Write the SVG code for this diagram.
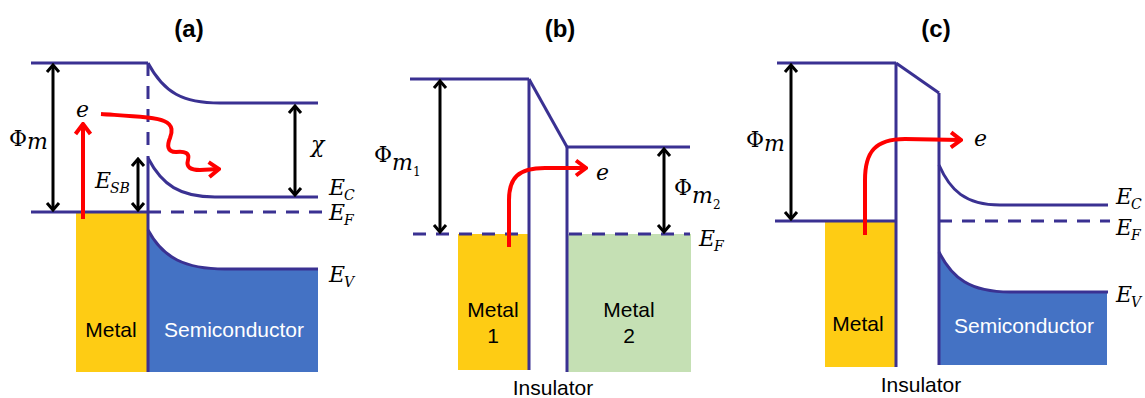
<svg xmlns="http://www.w3.org/2000/svg" width="1145" height="398" viewBox="0 0 1145 398">
<defs>
<style>
.band{fill:none;stroke:#3a3192;stroke-width:3}
.dash{fill:none;stroke:#3a3192;stroke-width:3;stroke-dasharray:13 10}
.blk{fill:none;stroke:#000;stroke-width:3;marker-start:url(#ah);marker-end:url(#ah)}
.red{fill:none;stroke:#ff0000;stroke-width:4;marker-end:url(#rh)}
.title{font-family:"Liberation Sans",Arial,sans-serif;font-weight:bold;font-size:24px;text-anchor:middle}
.lbl{font-family:"Liberation Sans",Arial,sans-serif;font-size:21px;text-anchor:middle}
.m{font-family:"DejaVu Serif","Liberation Serif",serif;font-size:22px}
.mi{font-family:"DejaVu Serif","Liberation Serif",serif;font-size:22px;font-style:italic}
.sub{font-family:"DejaVu Serif","Liberation Serif",serif;font-size:14px;font-style:italic}
.sub2{font-family:"DejaVu Serif","Liberation Serif",serif;font-size:12px}
</style>
<marker id="ah" markerUnits="userSpaceOnUse" viewBox="-10 -8 12 16" refX="0" refY="0" markerWidth="12" markerHeight="16" orient="auto-start-reverse">
<path d="M-7,-6 L0,0 L-7,6" fill="none" stroke="#000" stroke-width="3"/>
</marker>
<marker id="rh" markerUnits="userSpaceOnUse" viewBox="-13 -10 15 20" refX="0" refY="0" markerWidth="15" markerHeight="20" orient="auto">
<path d="M-10,-7.5 L0,0 L-10,7.5" fill="none" stroke="#ff0000" stroke-width="4"/>
</marker>
</defs>
<rect width="1145" height="398" fill="#fff"/>

<g id="titles">
<text class="title" x="189" y="37">(a)</text>
<text class="title" x="560" y="37">(b)</text>
<text class="title" x="936" y="37">(c)</text>
</g>

<!-- Panel (a) -->
<g id="a-metal">
<rect x="76" y="212" width="72" height="160" fill="#fecc14"/>
<text class="lbl" x="111" y="337">Metal</text>
</g>
<g id="a-semiconductor">
<path d="M148,230 C163,258 185,269 225,269 L318,269 L318,372 L148,372 Z" fill="#4472c4"/>
<path class="band" d="M148,230 C163,258 185,269 225,269 L318,269"/>
<text class="lbl" x="234" y="337" fill="#fff">Semiconductor</text>
</g>
<g id="a-bands">
<line class="band" x1="31" y1="63" x2="148" y2="63"/>
<line class="dash" x1="148" y1="63" x2="148" y2="155"/>
<line class="band" x1="148" y1="156" x2="148" y2="372"/>
<path class="band" d="M148,63 C164,93 183,103 220,103 L318,103"/>
<path class="band" d="M148,158 C162,185 180,197 215,197 L318,197"/>
<line class="band" x1="31" y1="212" x2="148" y2="212"/>
<line class="dash" x1="148" y1="212" x2="326" y2="212"/>
</g>
<g id="a-labels">
<text class="m" x="9" y="146">Φ</text><text class="mi" x="27" y="149">m</text>
<text class="mi" x="76" y="117">e</text>
<text class="mi" x="95" y="188">E</text><text class="sub" x="110" y="193">SB</text>
<text class="mi" x="311" y="152" font-size="24">χ</text>
<text class="mi" x="329" y="195">E</text><text class="sub" x="344" y="200">C</text>
<text class="mi" x="329" y="220">E</text><text class="sub" x="344" y="225">F</text>
<text class="mi" x="329" y="282">E</text><text class="sub" x="344" y="287">V</text>
</g>

<!-- Panel (b) -->
<g id="b-metal1">
<rect x="458" y="234" width="71" height="136" fill="#fecc14"/>
<text class="lbl" x="493" y="317">Metal</text>
<text class="lbl" x="493" y="343">1</text>
</g>
<g id="b-metal2">
<rect x="567" y="234" width="124" height="138" fill="#c5e0b4"/>
<text class="lbl" x="629" y="317">Metal</text>
<text class="lbl" x="629" y="343">2</text>
</g>
<g id="b-insulator">
<line class="band" x1="410" y1="79" x2="529" y2="79"/>
<line class="band" x1="529" y1="79" x2="529" y2="370"/>
<line class="band" x1="529" y1="79" x2="567" y2="147"/>
<line class="band" x1="567" y1="147" x2="690" y2="147"/>
<line class="band" x1="567" y1="147" x2="567" y2="372"/>
<line class="dash" x1="413" y1="234" x2="528" y2="234"/>
<line class="dash" x1="569" y1="234" x2="690" y2="234"/>
<text class="lbl" x="553" y="395">Insulator</text>
</g>
<g id="b-labels">
<text class="m" x="374" y="162">Φ</text><text class="mi" x="392" y="170">m</text><text class="sub2" x="413" y="176">1</text>
<text class="m" x="674" y="195">Φ</text><text class="mi" x="692" y="203">m</text><text class="sub2" x="713" y="209">2</text>
<text class="mi" x="596" y="180">e</text>
<text class="mi" x="699" y="246">E</text><text class="sub" x="714" y="251">F</text>
</g>

<!-- Panel (c) -->
<g id="c-metal">
<rect x="825" y="221" width="71" height="146" fill="#fecc14"/>
<text class="lbl" x="858" y="331">Metal</text>
</g>
<g id="c-semiconductor">
<path d="M939,252 C952,278 970,292 1010,292 L1107,292 L1107,365 L939,365 Z" fill="#4472c4"/>
<path class="band" d="M939,252 C952,278 970,292 1010,292 L1108,292"/>
<text class="lbl" x="1024" y="333" fill="#fff">Semiconductor</text>
</g>
<g id="c-insulator">
<line class="band" x1="777" y1="63" x2="896" y2="63"/>
<line class="band" x1="896" y1="63" x2="896" y2="367"/>
<line class="band" x1="896" y1="63" x2="939" y2="93"/>
<line class="band" x1="939" y1="93" x2="939" y2="365"/>
<line class="band" x1="775" y1="221" x2="896" y2="221"/>
<line class="dash" x1="939" y1="221" x2="1110" y2="221"/>
<path class="band" d="M939,165 C950,190 965,205 1000,205 L1108,205"/>
<text class="lbl" x="921" y="392">Insulator</text>
</g>
<g id="c-labels">
<text class="m" x="746" y="147">Φ</text><text class="mi" x="764" y="151">m</text>
<text class="mi" x="974" y="146">e</text>
<text class="mi" x="1116" y="204">E</text><text class="sub" x="1131" y="209">C</text>
<text class="mi" x="1116" y="235">E</text><text class="sub" x="1131" y="240">F</text>
<text class="mi" x="1116" y="302">E</text><text class="sub" x="1131" y="307">V</text>
</g>

<g id="connectors">
<line class="blk" x1="53" y1="65" x2="53" y2="210"/>
<line class="blk" x1="138" y1="159" x2="138" y2="210"/>
<line class="blk" x1="295" y1="106" x2="295" y2="195"/>
<line class="blk" x1="440" y1="81" x2="440" y2="232"/>
<line class="blk" x1="664" y1="149" x2="664" y2="232"/>
<line class="blk" x1="791" y1="65" x2="791" y2="219"/>
<line class="red" x1="83" y1="219" x2="83" y2="124"/>
<path class="red" d="M101,114 C130,116 155,117 164,121 C174,125 172,133 170,138 C167,145 167,152 176,152 C185,151 190,153 188,160 C186,167 190,170 200,170 L219,169"/>
<path class="red" d="M509,247 L509,200 C509,178 518,168 545,168 L586,168"/>
<path class="red" d="M865,235 L865,180 C865,152 875,139 905,139 L961,140"/>
</g>
</svg>
